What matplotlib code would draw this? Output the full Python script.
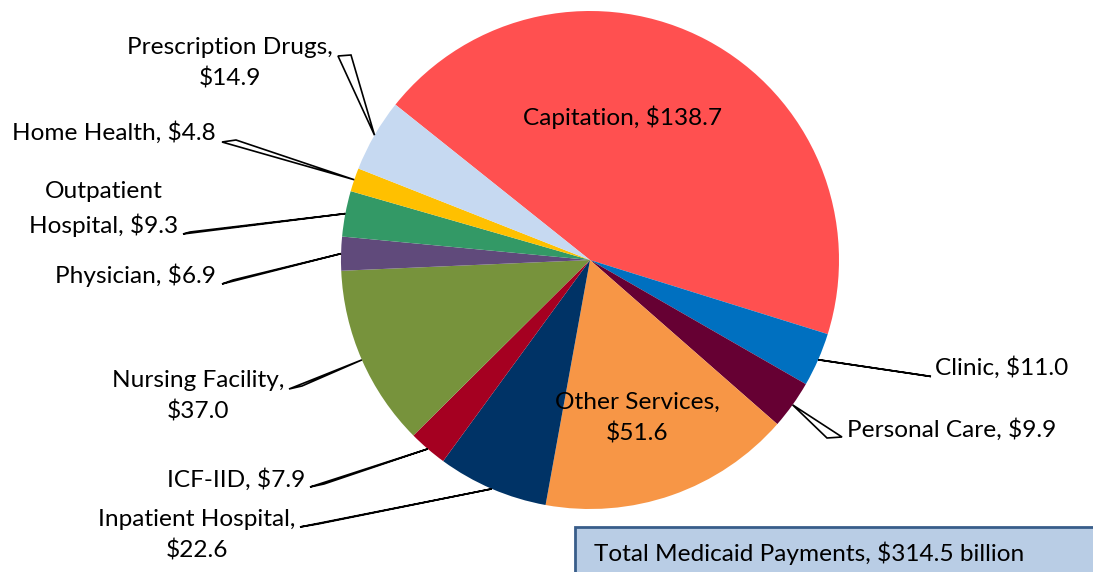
import matplotlib
matplotlib.use('Agg')
import matplotlib.pyplot as plt
import matplotlib.patches as patches
import numpy as np

# Medicaid payments by service, $ billions (clockwise from Capitation)
categories = ['Capitation', 'Clinic', 'Personal Care', 'Other Services',
              'Inpatient Hospital', 'ICF-IID', 'Nursing Facility', 'Physician',
              'Outpatient Hospital', 'Home Health', 'Prescription Drugs']
values = [138.7, 11.0, 9.9, 51.6, 22.6, 7.9, 37.0, 6.9, 9.3, 4.8, 14.9]
label_texts = ['Capitation, $138.7', 'Clinic, $11.0', 'Personal Care, $9.9',
               'Other Services,\n$51.6', 'Inpatient Hospital,\n$22.6', 'ICF-IID, $7.9',
               'Nursing Facility,\n$37.0', 'Physician, $6.9', 'Outpatient\nHospital, $9.3',
               'Home Health, $4.8', 'Prescription Drugs,\n$14.9']
total_text = 'Total Medicaid Payments, $314.5 billion'

colors = ['#FF5050', '#0070C0', '#660033', '#F79646', '#003366', '#A50021',
          '#77933C', '#604A7B', '#339966', '#FFC000', '#C6D9F1']

W, H = 1093, 572
FONT = 'Lato'
FS = 17.6

# label layout in pixel coords (y down): text x, text y, ha, leader end points
label_pos = [
    (623, 117, 'center', None),
    (935, 368, 'left', [(918, 374.5), (931, 376.5)]),
    (847, 430, 'left', [(827, 438), (842, 437)]),
    (637, 418, 'center', None),
    (197, 535, 'center', [(300, 527), (318, 524)]),
    (305, 480, 'right', [(310, 487), (324, 484)]),
    (198, 396, 'center', [(289, 389), (302, 386)]),
    (216, 275, 'right', [(222, 284), (233, 280)]),
    (104, 209, 'center', [(183, 234), (190, 232)]),
    (216, 133, 'right', [(222, 142), (236, 140)]),
    (230, 63, 'center', [(338, 56), (351, 55)]),
]

cx, cy, R = 590, 260, 249


def fy(y):
    return H - y


fig = plt.figure(figsize=(W / 100, H / 100), dpi=100)
ax = fig.add_axes([0, 0, 1, 1])
wedges, _ = ax.pie(values, colors=colors, startangle=141.4, counterclock=False,
                   center=(cx, fy(cy)), radius=R,
                   wedgeprops=dict(linewidth=0))
ax.set_xlim(0, W)
ax.set_ylim(0, H)
ax.set_aspect('equal')
ax.axis('off')

for w, txt, (tx, ty, ha, ends) in zip(wedges, label_texts, label_pos):
    ax.text(tx, fy(ty), txt, ha=ha, va='center', multialignment='center',
            fontsize=FS, family=FONT, color='black', linespacing=1.55, zorder=5)
    if ends is None:
        continue
    mid = np.deg2rad((w.theta1 + w.theta2) / 2)
    sx = cx + R * np.cos(mid)
    sy = fy(cy) + R * np.sin(mid)
    pts = [(sx, sy)] + [(ex, fy(ey)) for ex, ey in ends]
    ax.add_patch(patches.Polygon(pts, closed=True, facecolor='white',
                                 edgecolor='black', linewidth=1.2, zorder=4))

# total box (runs off the bottom right corner)
ax.add_patch(patches.Rectangle((575, fy(600)), 540, 73, facecolor='#B9CDE5',
                               edgecolor='#385D8A', linewidth=2, zorder=3, clip_on=False))
ax.text(594, fy(553), total_text, ha='left', va='center', fontsize=FS,
        family=FONT, color='black', zorder=5)

fig.savefig('out.png', dpi=100)
